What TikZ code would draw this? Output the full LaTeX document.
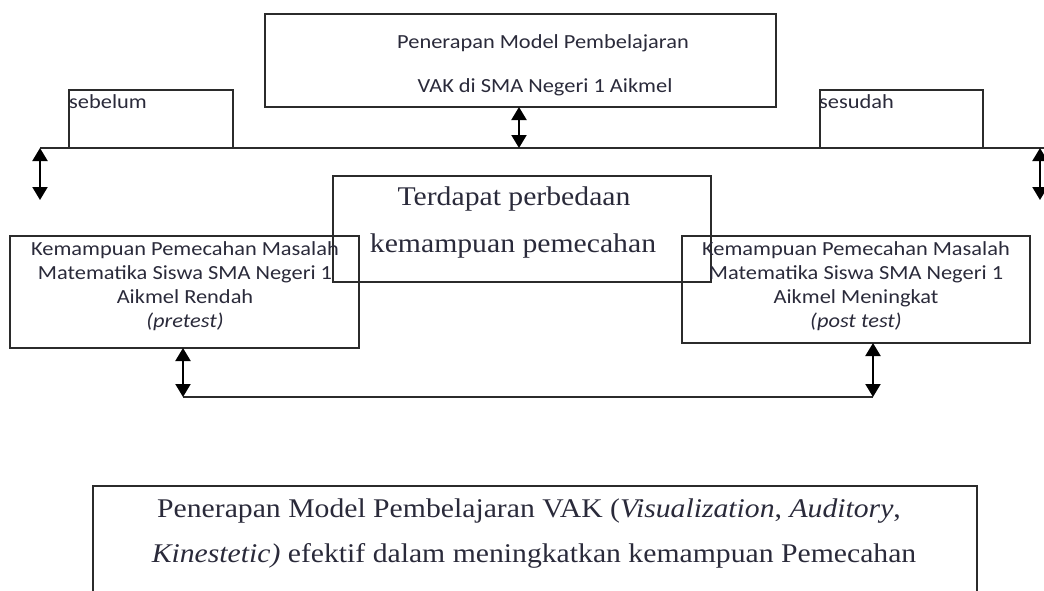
\documentclass[tikz,border=0pt]{standalone}
\usepackage{fontspec}
\usepackage{graphicx}
\setmainfont{Liberation Serif}
\newfontfamily\calfont{Carlito}
\usetikzlibrary{arrows.meta}
\definecolor{ln}{HTML}{2B2B2B}
\definecolor{tx}{HTML}{2A2A3A}
\newcommand\sx[1]{\scalebox{1.12}[1]{#1}}
\newcommand\sy[1]{\scalebox{1.1}[1]{#1}}
\begin{document}
\begin{tikzpicture}[x=1pt,y=-1pt,
  box/.style={draw=ln,line width=1.4pt,minimum width=#1,inner sep=0pt},
  cal/.style={font=\calfont\fontsize{20}{24}\selectfont,text=tx,inner sep=0pt,align=center},
  ser/.style={font=\fontsize{27}{30}\selectfont,text=tx,inner sep=0pt},
  dbl/.style={draw=black,line width=2pt,{Triangle[width=15pt,length=13pt]}-{Triangle[width=15pt,length=13pt]}},
  wire/.style={draw=ln,line width=1.4pt}]
\useasboundingbox (0,0) rectangle (1044,590);
% boxes
\node[box=511pt,minimum height=93pt] (top) at (520.5,60.5) {};
\node[box=164pt,minimum height=58pt] (seb) at (151,119) {};
\node[box=163pt,minimum height=58pt] (ses) at (901.5,119) {};
\node[box=378pt,minimum height=106pt] (mid) at (522,229) {};
\node[box=349pt,minimum height=112pt] (lft) at (184.5,292) {};
\node[box=348pt,minimum height=107pt] (rgt) at (856,289.5) {};
\node[box=884pt,minimum height=120pt] (bot) at (535,546) {};
% texts
\node[cal] (t1) at (543,43) {\sx{Penerapan Model Pembelajaran}};
\node[cal] (t2) at (545,87) {\sx{VAK di SMA Negeri 1 Aikmel}};
\node[cal,anchor=west] (t3) at (69,102) {\sx{sebelum}};
\node[cal,anchor=west] (t4) at (819,102) {\sx{sesudah}};
\node[ser] (t5) at (514,199) {\sy{Terdapat perbedaan}};
\node[ser] (t6) at (513,246) {\sy{kemampuan pemecahan}};
\node[cal] (t7) at (185,286) {\sx{Kemampuan Pemecahan Masalah}\\\sx{Matematika Siswa SMA Negeri 1}\\\sx{Aikmel Rendah}\\\sx{\textit{(pretest)}}};
\node[cal] (t8) at (856,286) {\sx{Kemampuan Pemecahan Masalah}\\\sx{Matematika Siswa SMA Negeri 1}\\\sx{Aikmel Meningkat}\\\sx{\textit{(post test)}}};
\node[ser] (t9) at (529,511) {\sy{Penerapan Model Pembelajaran VAK (\textit{Visualization}, \textit{Auditory},}};
\node[ser] (t10) at (534,556) {\sy{\textit{Kinestetic)} efektif dalam meningkatkan kemampuan Pemecahan}};
% connector coordinates
\coordinate (hl) at (40,148);
\coordinate (hr) at (1044,148);
\coordinate (hm) at (519,148);
\coordinate (al) at (40,200);
\coordinate (ar0) at (1040,148);
\coordinate (ar) at (1040,200);
\coordinate (bl) at (183,397);
\coordinate (br) at (873,397);
\coordinate (lt) at (183,348);
\coordinate (rt) at (873,343);
\coordinate (tb) at (519,107);
% connectors
\draw[wire] (hl) -- (hr);
\draw[dbl] (tb) -- (hm);
\draw[dbl] (hl) -- (al);
\draw[dbl] (ar0) -- (ar);
\draw[wire] (bl) -- (br);
\draw[dbl] (lt) -- (bl);
\draw[dbl] (rt) -- (br);
\end{tikzpicture}
\end{document}
